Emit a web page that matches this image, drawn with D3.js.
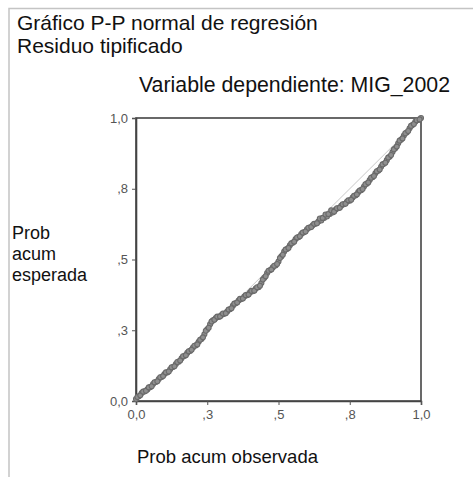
<!DOCTYPE html>
<html>
<head>
<meta charset="utf-8">
<script src="https://cdn.jsdelivr.net/npm/d3@7"></script>
<style>
  html, body { margin: 0; padding: 0; background: #fff; }
  svg { display: block; font-family: Arial, "Liberation Sans", sans-serif; }
</style>
</head>
<body>
<svg id="chart" width="473" height="477"></svg>
<script>
// Probabilidad acumulada observada de los residuos tipificados
const observada = [
  0.00,0.01,0.02,0.03,0.04,0.05,0.06,0.07,0.08,0.09,
  0.10,0.11,0.12,0.13,0.14,0.15,0.16,0.17,0.18,0.19,
  0.20,0.21,0.22,0.23,0.24,0.25,0.26,0.27,0.28,0.29,
  0.30,0.31,0.32,0.33,0.34,0.35,0.36,0.37,0.38,0.39,
  0.40,0.41,0.42,0.43,0.44,0.45,0.46,0.47,0.48,0.49,
  0.50,0.51,0.52,0.53,0.54,0.55,0.56,0.57,0.58,0.59,
  0.60,0.61,0.62,0.63,0.64,0.65,0.66,0.67,0.68,0.69,
  0.70,0.71,0.72,0.73,0.74,0.75,0.76,0.77,0.78,0.79,
  0.80,0.81,0.82,0.83,0.84,0.85,0.86,0.87,0.88,0.89,
  0.90,0.91,0.92,0.93,0.94,0.95,0.96,0.97,0.98,0.99,
  1.00
];
// Probabilidad acumulada esperada bajo la normal
const esperada = [
  0.007,0.017,0.028,0.034,0.041,0.049,0.060,0.067,0.078,0.085,
  0.095,0.101,0.112,0.120,0.131,0.139,0.151,0.159,0.170,0.177,
  0.189,0.196,0.209,0.219,0.236,0.253,0.271,0.285,0.293,0.297,
  0.304,0.308,0.316,0.324,0.337,0.345,0.355,0.360,0.369,0.374,
  0.383,0.388,0.397,0.402,0.417,0.435,0.452,0.462,0.472,0.479,
  0.493,0.511,0.528,0.537,0.550,0.559,0.572,0.579,0.590,0.596,
  0.607,0.613,0.621,0.626,0.634,0.638,0.647,0.652,0.661,0.666,
  0.676,0.681,0.690,0.695,0.704,0.708,0.719,0.726,0.738,0.745,
  0.758,0.768,0.781,0.791,0.805,0.814,0.828,0.838,0.851,0.863,
  0.880,0.893,0.911,0.923,0.938,0.949,0.964,0.975,0.987,0.993,
  1.000
];
// Casos intermedios: probabilidad observada
const observadaIntermedia = [
  0.005,0.015,0.025,0.035,0.045,0.055,0.065,0.075,0.085,0.095,
  0.105,0.115,0.125,0.135,0.145,0.155,0.165,0.175,0.185,0.195,
  0.205,0.215,0.225,0.235,0.245,0.255,0.265,0.275,0.285,0.295,
  0.305,0.315,0.325,0.335,0.345,0.355,0.365,0.375,0.385,0.395,
  0.405,0.415,0.425,0.435,0.445,0.455,0.465,0.475,0.485,0.495,
  0.505,0.515,0.525,0.535,0.545,0.555,0.565,0.575,0.585,0.595,
  0.605,0.615,0.625,0.635,0.645,0.655,0.665,0.675,0.685,0.695,
  0.705,0.715,0.725,0.735,0.745,0.755,0.765,0.775,0.785,0.795,
  0.805,0.815,0.825,0.835,0.845,0.855,0.865,0.875,0.885,0.895,
  0.905,0.915,0.925,0.935,0.945,0.955,0.965,0.975,0.985,0.995
];
// Casos intermedios: probabilidad esperada
const esperadaIntermedia = [
  0.014,0.020,0.033,0.036,0.048,0.052,0.066,0.070,0.084,0.088,
  0.101,0.104,0.119,0.123,0.138,0.143,0.158,0.162,0.176,0.181,
  0.195,0.200,0.216,0.225,0.248,0.259,0.281,0.287,0.298,0.299,
  0.309,0.310,0.323,0.328,0.344,0.348,0.361,0.362,0.374,0.376,
  0.389,0.390,0.402,0.407,0.429,0.441,0.460,0.465,0.478,0.484,
  0.505,0.517,0.535,0.541,0.557,0.563,0.578,0.582,0.595,0.599,
  0.612,0.615,0.626,0.628,0.645,0.647,0.659,0.661,0.674,0.669,
  0.681,0.683,0.695,0.697,0.709,0.711,0.725,0.730,0.744,0.749,
  0.766,0.772,0.789,0.795,0.812,0.818,0.836,0.842,0.860,0.869,
  0.889,0.899,0.920,0.928,0.946,0.954,0.972,0.979,0.992,0.995
];
// Marcas de los ejes
const ticks = [0, 0.25, 0.5, 0.75, 1];
const tickLabels = ["0,0", ",3", ",5", ",8", "1,0"];

const svg = d3.select("#chart");

// Marco exterior del gráfico
svg.append("path")
  .attr("d", "M9,477 V8.5 H473")
  .attr("fill", "none")
  .attr("stroke", "#c4c4c4")
  .attr("stroke-width", 1.5);

// Títulos
svg.append("text").attr("x", 17).attr("y", 30)
  .attr("font-size", 21).attr("fill", "#111")
  .text("Gráfico P-P normal de regresión");
svg.append("text").attr("x", 17).attr("y", 53)
  .attr("font-size", 21).attr("fill", "#111")
  .text("Residuo tipificado");
svg.append("text").attr("x", 139).attr("y", 92)
  .attr("font-size", 21.3).attr("fill", "#111")
  .text("Variable dependiente: MIG_2002");

const x = d3.scaleLinear().domain([0, 1]).range([136, 421]);
const y = d3.scaleLinear().domain([0, 1]).range([401, 118]);

// Recuadro del área de trazado
svg.append("rect")
  .attr("x", x(0)).attr("y", y(1))
  .attr("width", x(1) - x(0)).attr("height", y(0) - y(1))
  .attr("fill", "none").attr("stroke", "#444").attr("stroke-width", 1.6);

// Ejes
const fmt = (d) => tickLabels[ticks.indexOf(d)];
const gx = svg.append("g").attr("transform", `translate(0,${y(0)})`)
  .call(d3.axisBottom(x).tickValues(ticks).tickFormat(fmt).tickSize(4).tickPadding(5));
const gy = svg.append("g").attr("transform", `translate(${x(0)},0)`)
  .call(d3.axisLeft(y).tickValues(ticks).tickFormat(fmt).tickSize(4).tickPadding(4));
[gx, gy].forEach(g => {
  g.select(".domain").attr("stroke", "#444").attr("stroke-width", 1.6);
  g.selectAll(".tick line").attr("stroke", "#555");
  g.selectAll(".tick text").attr("font-size", 13).attr("fill", "#555")
    .attr("font-family", "Arial, 'Liberation Sans', sans-serif");
});

// Diagonal de referencia
svg.append("line")
  .attr("x1", x(0)).attr("y1", y(0)).attr("x2", x(1)).attr("y2", y(1))
  .attr("stroke", "#c8c8c8").attr("stroke-width", 1);

// Puntos P-P
const puntos = observada.map((o, i) => [o, esperada[i]])
  .concat(observadaIntermedia.map((o, i) => [o, esperadaIntermedia[i]]));
svg.append("g").selectAll("circle")
  .data(puntos)
  .join("circle")
  .attr("cx", d => x(d[0])).attr("cy", d => y(d[1]))
  .attr("r", 2.5)
  .attr("fill", "#8f8f8f").attr("stroke", "#6a6a6a").attr("stroke-width", 1.1);

// Rótulos de los ejes
svg.append("text").attr("x", 137).attr("y", 463)
  .attr("font-size", 18.5).attr("fill", "#111")
  .text("Prob acum observada");
const yl = svg.append("text").attr("x", 12).attr("y", 239)
  .attr("font-size", 18).attr("fill", "#111");
["Prob", "acum", "esperada"].forEach((t, i) =>
  yl.append("tspan").attr("x", 12).attr("dy", i ? 21 : 0).text(t));
</script>
</body>
</html>
